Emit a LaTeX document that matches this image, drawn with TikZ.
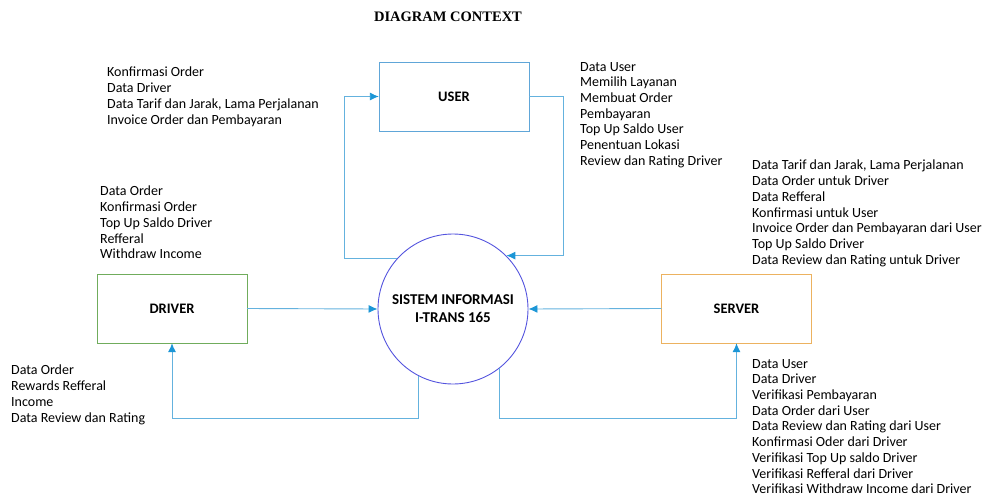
\documentclass[tikz,border=0pt]{standalone}
\usepackage{fontspec}
\setmainfont{Carlito}
\newfontfamily\titlefont{Liberation Serif}
\usepackage{xcolor}
\usetikzlibrary{arrows.meta, calc}

\definecolor{flowline}{RGB}{100,178,222}
\definecolor{flowtip}{RGB}{28,150,214}
\definecolor{procline}{RGB}{84,84,222}
\definecolor{userline}{RGB}{96,166,216}
\definecolor{driverline}{RGB}{112,172,92}
\definecolor{serverline}{RGB}{236,178,96}

\tikzset{
	entity/.style = {draw, minimum width = 150, minimum height = 69, font = \fontsize{14.5}{17}\selectfont\bfseries},
	flow/.style = {draw = flowline, line width = 0.9pt, -{Latex[length = 9pt, width = 8pt, color = flowtip]}},
	datalist/.style = {anchor = north west, align = left, inner sep = 0pt, font = \fontsize{14}{15.7}\selectfont}
}

\begin{document}
\begin{tikzpicture}[x = 1pt, y = -1pt]
					\useasboundingbox (0,0) rectangle (985,498);
					\def\rad{75};

					\node (title) at (448,17) {\titlefont\fontsize{14.5}{16}\selectfont\bfseries DIAGRAM CONTEXT};

					\begin{scope}
						\node [entity, draw = userline]   (user)   at (454,96.5)  {USER};
						\node [entity, draw = driverline] (driver) at (172,308.5) {DRIVER};
						\node [entity, draw = serverline] (server) at (736.5,308.5) {SERVER};
						\node [circle, draw = procline, line width = 0.9pt, minimum size = 2*\rad, inner sep = 0pt, align = center,
							font = \fontsize{15}{18}\selectfont\bfseries] (sys) at (453,309) {SISTEM INFORMASI\\I-TRANS 165};
					\end{scope}

					\begin{scope}[flow]
						\draw (sys.138) -- ++(-52,0) |- (user.west);
						\draw (user.east) -- ++(34,0) |- (sys.45);
						\draw (driver.east) -- (sys.west);
						\draw (server.west) -- (sys.east);
						\draw (sys.243) -- ++(0,42) -| (driver.south);
						\draw (sys.308) -- ++(0,50) -| (server.south);
					\end{scope}

					\begin{scope}
						\node [datalist] (touser) at (107,67) {Konfirmasi Order\\Data Driver\\Data Tarif dan Jarak, Lama Perjalanan\\Invoice Order dan Pembayaran};
						\node [datalist] (fromuser) at (580,62) {Data User\\Memilih Layanan\\Membuat Order\\Pembayaran\\Top Up Saldo User\\Penentuan Lokasi\\Review dan Rating Driver};
						\node [datalist] (fromserver) at (752,160) {Data Tarif dan Jarak, Lama Perjalanan\\Data Order untuk Driver\\Data Refferal\\Konfirmasi untuk User\\Invoice Order dan Pembayaran dari User\\Top Up Saldo Driver\\Data Review dan Rating untuk Driver};
						\node [datalist] (fromdriver) at (100,186) {Data Order\\Konfirmasi Order\\Top Up Saldo Driver\\Refferal\\Withdraw Income};
						\node [datalist] (todriver) at (11,365) {Data Order\\Rewards Refferal\\Income\\Data Review dan Rating};
						\node [datalist] (toserver) at (752,359) {Data User\\Data Driver\\Verifikasi Pembayaran\\Data Order dari User\\Data Review dan Rating dari User\\Konfirmasi Oder dari Driver\\Verifikasi Top Up saldo Driver\\Verifikasi Refferal dari Driver\\Verifikasi Withdraw Income dari Driver};
					\end{scope}
				\end{tikzpicture}
\end{document}
